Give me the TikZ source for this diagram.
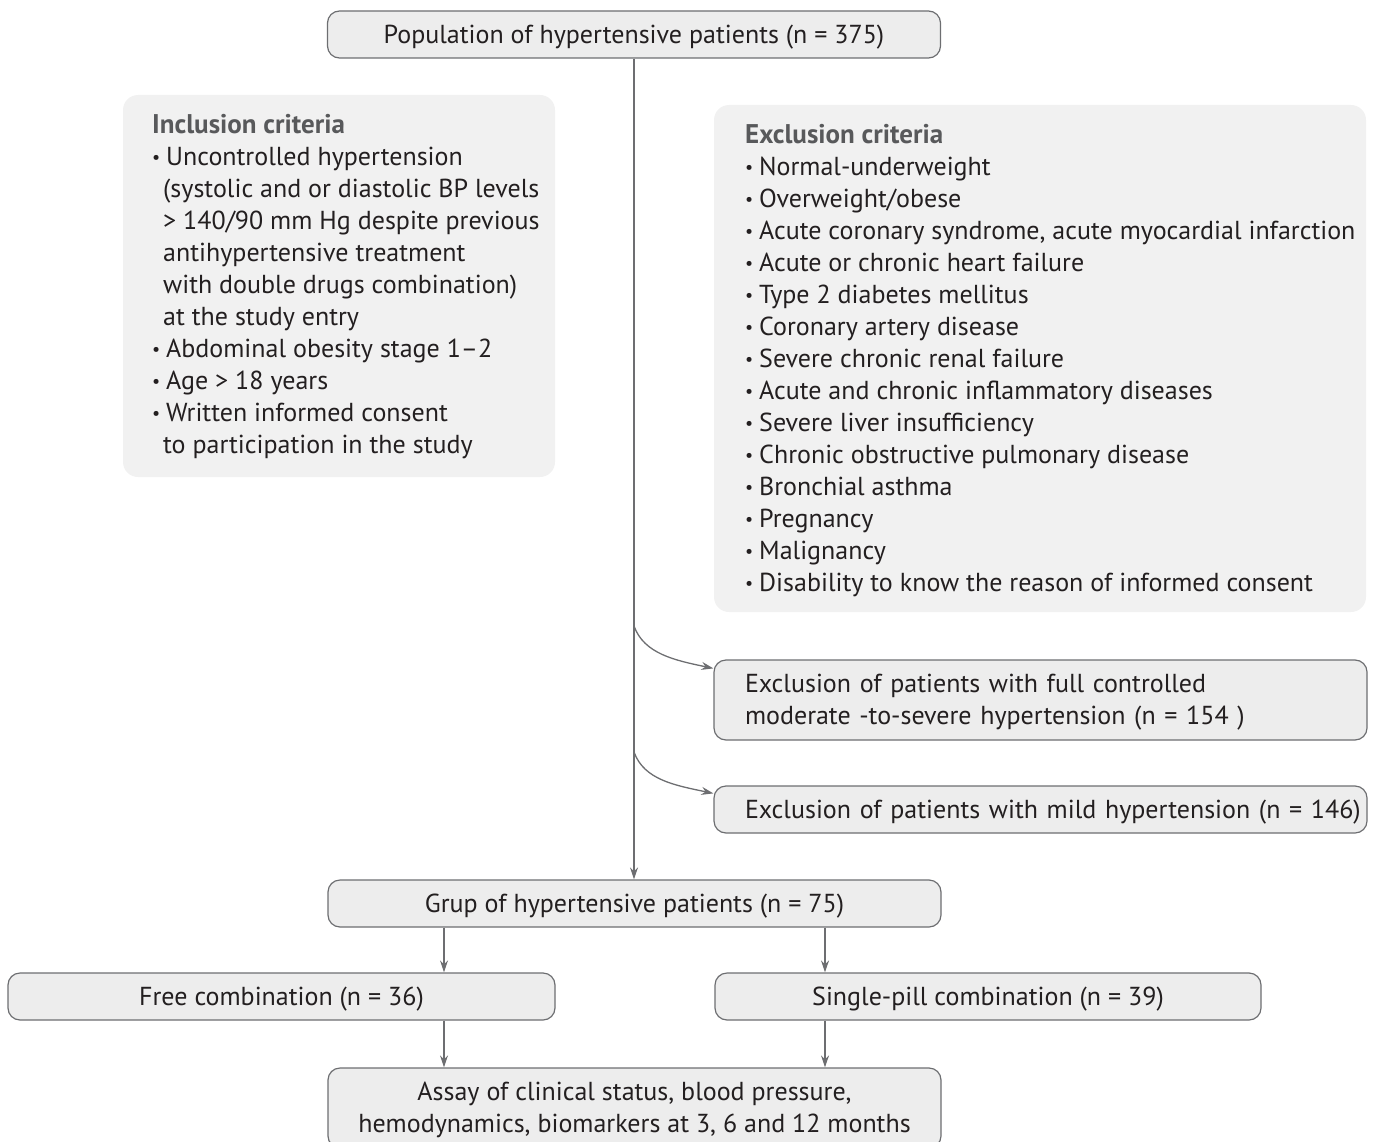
\documentclass[tikz,border=0pt]{standalone}
\usepackage{fontspec}
\setmainfont{PT Sans}
\usetikzlibrary{arrows.meta}
\definecolor{txt}{HTML}{231F20}
\definecolor{edge}{HTML}{6D6E71}
\definecolor{boxfill}{HTML}{EDEDED}
\definecolor{critfill}{HTML}{F1F1F1}
\definecolor{titlec}{HTML}{58595B}
\newcommand\bul{\makebox[14pt][l]{\raisebox{1.5pt}{\fontsize{18}{18}\selectfont\textbullet}}}
\newcommand\cont{\hspace*{11pt}}
\newcommand\crithd[1]{{\fontsize{27}{32}\selectfont\bfseries\color{titlec}#1}}
\begin{document}
\begin{tikzpicture}[x=1pt,y=-1pt,
  font=\fontsize{26}{32}\selectfont, text=txt,
  flowbox/.style={draw=edge, line width=1.2pt, fill=boxfill, rounded corners=12pt, inner sep=0pt, align=center},
  oneline/.style={text height=20.8pt, text depth=3pt, minimum height=47pt},
  twoline/.style={text height=52.8pt, text depth=3pt, minimum height=80pt},
  twolinetop/.style={text height=20.8pt, text depth=35pt, minimum height=80pt},
  critbox/.style={fill=critfill, rounded corners=15pt, inner sep=0pt},
  crittext/.style={anchor=north west, inner sep=0pt, align=left},
  conn/.style={draw=edge, line width=1.3pt, -{Stealth[length=12pt,width=8pt]}}]
\useasboundingbox (0,0) rectangle (1375,1142);
% criteria backgrounds
\node[critbox, minimum width=432pt, minimum height=382pt] (incbg) at (339,286) {};
\node[critbox, minimum width=652pt, minimum height=507pt] (excbg) at (1040,358.5) {};
\node[crittext] (inc) at (152,114) {\crithd{Inclusion criteria}\\
\bul Uncontrolled hypertension\\
\cont(systolic and or diastolic BP levels\\
\cont> 140/90 mm Hg despite previous\\
\cont antihypertensive treatment\\
\cont with double drugs combination)\\
\cont at the study entry\\
\bul Abdominal obesity stage 1–2\\
\bul Age > 18 years\\
\bul Written informed consent\\
\cont to participation in the study};
\node[crittext] (exc) at (745,124) {\crithd{Exclusion criteria}\\
\bul Normal-underweight\\
\bul Overweight/obese\\
\bul Acute coronary syndrome, acute myocardial infarction\\
\bul Acute or chronic heart failure\\
\bul Type 2 diabetes mellitus\\
\bul Coronary artery disease\\
\bul Severe chronic renal failure\\
\bul Acute and chronic inflammatory diseases\\
\bul Severe liver insufficiency\\
\bul Chronic obstructive pulmonary disease\\
\bul Bronchial asthma\\
\bul Pregnancy\\
\bul Malignancy\\
\bul Disability to know the reason of informed consent};
% flow boxes
\node[flowbox, oneline, minimum width=613pt] (pop) at (634,34.5) {Population of hypertensive patients (n = 375)};
\node[flowbox, twolinetop, text width=591pt, align=left, inner xsep=31pt] (ex1) at (1040.5,700) {Exclusion of patients with full controlled\\moderate -to-severe hypertension (n = 154 )};
\node[flowbox, oneline, text width=591pt, align=left, inner xsep=31pt] (ex2) at (1040.5,809.5) {\mbox{Exclusion of patients with mild hypertension (n = 146)}};
\node[flowbox, oneline, minimum width=613pt] (grp) at (634.5,903.5) {Grup of hypertensive patients (n = 75)};
\node[flowbox, oneline, minimum width=547pt] (free) at (281.5,996.5) {Free combination (n = 36)};
\node[flowbox, oneline, minimum width=546pt] (single) at (988,996.5) {Single-pill combination (n = 39)};
\node[flowbox, twoline, minimum width=613pt] (assay) at (634.5,1108) {Assay of clinical status, blood pressure,\\hemodynamics, biomarkers at 3, 6 and 12 months};
% connectors
\coordinate (b1) at (634,626);
\coordinate (b2) at (634,752);
\draw[conn] (pop.south) -- (pop.south |- grp.north);
\draw[conn] (b1) .. controls +(10,28) and +(-38,-8) .. ([yshift=-9pt]ex1.north west);
\draw[conn] (b2) .. controls +(10,28) and +(-38,-8) .. ([yshift=-8pt]ex2.north west);
\draw[conn] (grp.south -| free.north) ++(162.5,0) coordinate (g1) -- (g1 |- free.north);
\draw[conn] (grp.south -| single.north) ++(-163,0) coordinate (g2) -- (g2 |- single.north);
\draw[conn] (free.south) ++(162.5,0) coordinate (f1) -- (f1 |- assay.north);
\draw[conn] (single.south) ++(-163,0) coordinate (s1) -- (s1 |- assay.north);
\end{tikzpicture}
\end{document}
